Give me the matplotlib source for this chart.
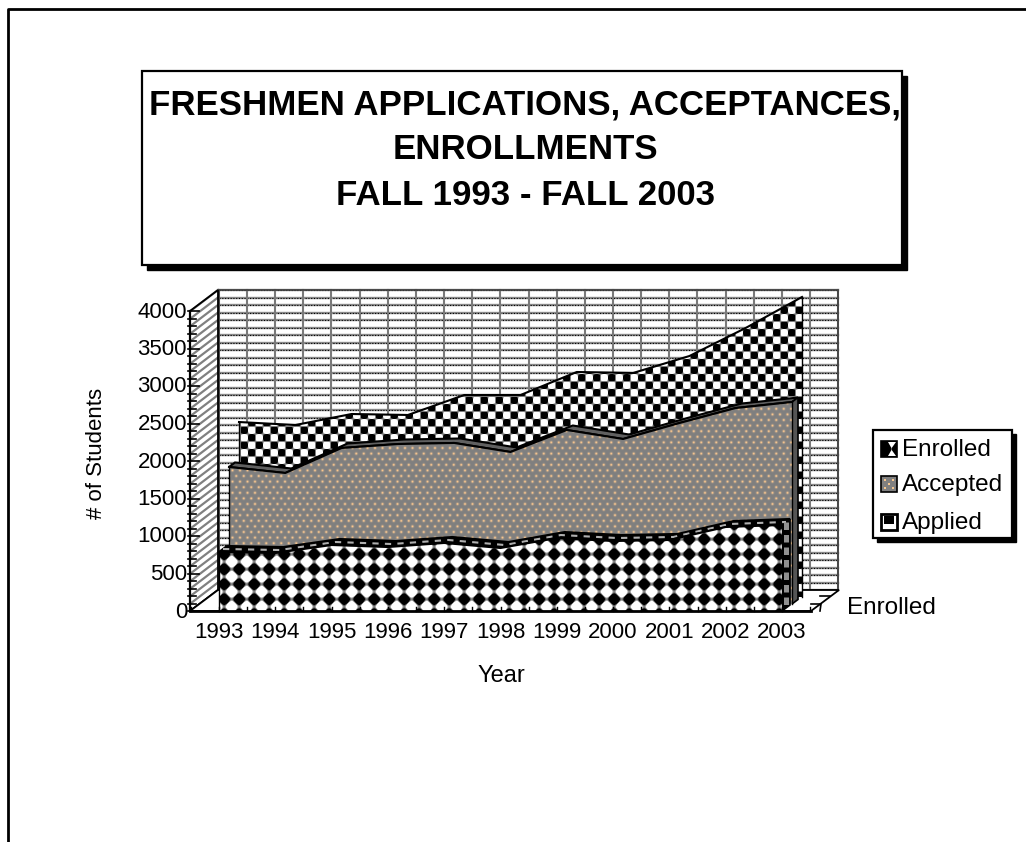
import numpy as np
import matplotlib
matplotlib.use("Agg")
import matplotlib.pyplot as plt
from matplotlib.patches import Polygon, Rectangle
from matplotlib.transforms import Affine2D

plt.rcParams["font.family"] = ["Liberation Sans", "DejaVu Sans"]

# valori
years = [1993, 1994, 1995, 1996, 1997, 1998, 1999, 2000, 2001, 2002, 2003]
enrolled = [787, 773, 880, 853, 907, 840, 973, 933, 947, 1120, 1147]
accepted = [1827, 1747, 2080, 2133, 2147, 2027, 2320, 2200, 2413, 2613, 2693]
applied = [2333, 2293, 2440, 2427, 2693, 2693, 3000, 2987, 3213, 3587, 4000]
y_ticks = [0, 500, 1000, 1500, 2000, 2500, 3000, 3500, 4000]
legend_names = ["Enrolled", "Accepted", "Applied"]
title_lines = ["FRESHMEN APPLICATIONS, ACCEPTANCES,", "ENROLLMENTS", "FALL 1993 - FALL 2003"]

W, H = 1026, 842
X_PX, X0 = 56.3, 219
Y_PX, Y0 = 0.075, 611

fig = plt.figure(figsize=(W / 100, H / 100), dpi=100)
ax = fig.add_axes([0, 0, 1, 1])
xlim = (1993 - X0 / X_PX, 1993 + (W - X0) / X_PX)
ylim = ((Y0 - H) / Y_PX, Y0 / Y_PX)
pix = Affine2D().scale(1, -1).translate(0, H)  # coordinate in pixel dell'immagine


def shift(dx, dy):
    # spostamento prospettico in pixel (dy verso l'alto)
    return ax.transData + Affine2D().translate(dx, dy)


# texture
yy, xx = np.mgrid[0:H, 0:W] + 0.5
diamond = np.cos(2 * np.pi * (xx - 231.7) / 15) + np.cos(2 * np.pi * (yy - 561.7) / 15)
diamond = np.clip(0.5 + diamond * 1.3, 0, 1)
diamond = np.dstack([diamond] * 3)

checker = np.sin(np.pi * (xx - 248) / 7.5) * np.sin(np.pi * (yy - 434) / 7.5)
checker = 0.5 - 0.5 * np.clip(checker * 5, -1, 1)
checker = np.dstack([checker] * 3)

base = np.array([0.5, 0.5, 0.5])
dot = np.array([0.98, 0.78, 0.56])
row = np.round(yy / 5.6)
cx = (xx - 3.75 * (row % 2)) / 7.5
dist2 = ((cx - np.round(cx)) * 7.5) ** 2 + (yy - row * 5.6) ** 2
amount = np.exp(-dist2 / 1.6)[..., None]
speckle = base * (1 - amount) + dot * amount


def draw_wall():
    back = shift(28, 21)
    ax.add_patch(Rectangle((1992.5, 0), 11, 4000, fc="white", ec="none", transform=back, zorder=1))
    for v in range(0, 4001, 100):
        ax.plot([1992.5, 2003.5], [v, v], color="#8a8a8a", lw=1.7, transform=back, zorder=2)
        ax.plot([1992.5, 2003.5], [v, v], color="black", lw=0.8, ls=(0, (1, 1.5)), transform=back, zorder=2)
    for x in np.arange(1992.5, 2004, 0.5):
        ax.plot([x, x], [0, 4000], color="#7a7a7a", lw=1.5, transform=back, zorder=2)
    ax.add_patch(Rectangle((1992.5, 0), 11, 4000, fc="none", ec="#404040", lw=1.2, transform=back, zorder=3))
    # parete sinistra
    for v in range(0, 4001, 100):
        ax.plot([190.5, 218], [Y0 - v * Y_PX, Y0 - 21 - v * Y_PX], color="#808080", lw=1.6, transform=pix, zorder=2)
    side = [(190, Y0), (218, Y0 - 21), (218, Y0 - 321), (190, Y0 - 300)]
    ax.add_patch(Polygon(side, fc="none", ec="black", lw=1.3, transform=pix, zorder=3))
    floor = [(190, Y0), (811, Y0), (839, Y0 - 21), (218, Y0 - 21)]
    ax.add_patch(Polygon(floor, fc="white", ec="black", lw=1.3, transform=pix, zorder=3))


def draw_series(values, dx0, dy0, dx, dy, tex, top_color, side_color, dash, z):
    tr = shift(dx0, dy0)
    xs = np.array(years, dtype=float)
    vs = np.array(values, dtype=float)
    depth = Affine2D().translate(dx, dy)
    # faccia superiore e laterale, spostate in profondita
    back = tr + depth
    pts_front = tr.transform(np.c_[xs, vs])
    pts_back = back.transform(np.c_[xs, vs])
    top = np.vstack([pts_front, pts_back[::-1]])
    ax.add_patch(Polygon(top, fc=top_color, ec="black", lw=1.5, transform=None, zorder=z))
    bottom_front = tr.transform([(xs[-1], 0)])[0]
    bottom_back = back.transform([(xs[-1], 0)])[0]
    side = [pts_front[-1], pts_back[-1], bottom_back, bottom_front]
    ax.add_patch(Polygon(side, fc=side_color, ec="black", lw=1.2, transform=None, zorder=z))
    if dash:
        mid = (pts_front + pts_back) / 2
        ax.plot(mid[:, 0], mid[:, 1], color="#b0b0b0", lw=1.5, ls=(0, (3, 3)), transform=None, zorder=z + 0.1)
        mid_s = [(pts_front[-1] + pts_back[-1]) / 2, (bottom_front + bottom_back) / 2]
        ax.plot([mid_s[0][0], mid_s[1][0]], [mid_s[0][1], mid_s[1][1]], color="#909090", lw=dx * 0.45,
                ls=(0, (1.5, 1)), transform=None, zorder=z + 0.1)
    # faccia frontale
    face = Polygon(np.vstack([[xs[0], 0], np.c_[xs, vs], [xs[-1], 0]]), fc="none", ec="none", transform=tr, zorder=z + 0.2)
    ax.add_patch(face)
    im = ax.imshow(tex, extent=(xlim[0], xlim[1], ylim[0], ylim[1]), origin="upper", aspect="auto",
                   interpolation="nearest", zorder=z + 0.2)
    im.set_clip_path(face)
    ax.plot(xs, vs, color="black", lw=1.5, transform=tr, zorder=z + 0.3)
    ax.plot([xs[0], xs[0]], [0, vs[0]], color="black", lw=1, transform=tr, zorder=z + 0.3)
    ax.plot([xs[-1], xs[-1]], [0, vs[-1]], color="black", lw=1, transform=tr, zorder=z + 0.3)


def draw_axes():
    ax.plot([190, 190], [Y0 - 300, Y0], color="black", lw=1.6, transform=pix, zorder=20)
    ax.plot([190, 811], [Y0, Y0], color="black", lw=2, transform=pix, zorder=20)
    for v in range(0, 4001, 100):
        x1 = 199 if v % 500 == 0 else 196
        y = Y0 - v * Y_PX
        ax.plot([188, x1], [y, y], color="black", lw=1.2, transform=pix, zorder=20)
    for x in np.arange(1992.5, 2004, 0.5):
        ax.plot([x, x], [0, 60], color="black", lw=1, zorder=20)
    # tacche dell'asse di profondita
    ax.plot([811, 821, 820], [604, 604, 611], color="black", lw=1.2, transform=pix, zorder=20)
    ax.plot([820, 830], [596, 596], color="black", lw=1.2, transform=pix, zorder=20)
    for v in y_ticks:
        ax.text(187, Y0 - v * Y_PX + 1, str(v), ha="right", va="center", fontsize=16, transform=pix, zorder=21)
    for y in years:
        ax.text(y, -285, str(y), ha="center", va="center", fontsize=16, zorder=21)
    ax.text(501, 676, "Year", ha="center", va="center", fontsize=17, transform=pix)
    ax.text(97, 453, "# of Students", ha="center", va="center", rotation=90, fontsize=16, transform=pix)
    ax.text(847, 608, "Enrolled", ha="left", va="center", fontsize=17.5, transform=pix)


def box(x0, y0, x1, y1, off, z):
    ax.add_patch(Rectangle((x0 + off, y0 + off), x1 - x0, y1 - y0, fc="black", ec="black", transform=pix, zorder=z))
    ax.add_patch(Rectangle((x0, y0), x1 - x0, y1 - y0, fc="white", ec="black", lw=1.6, transform=pix, zorder=z + 0.1))


def draw_legend():
    box(873, 430, 1012, 538, 4, 30)
    rows = [449, 484, 522]
    for name, y in zip(legend_names, rows):
        ax.text(902, y + 1.5, name, ha="left", va="center", fontsize=17.5, transform=pix, zorder=31)
    x0, x1 = 881, 897
    # Enrolled
    y = rows[0]
    ax.add_patch(Rectangle((x0, y - 8), 16, 16, fc="black", ec="black", lw=1.2, transform=pix, zorder=31))
    ax.add_patch(Polygon([(x0 + 7, y - 7), (x1 - 1, y - 7), (x0 + 10, y), (x1 - 1, y + 7), (x0 + 7, y + 7), (x0 + 11, y)],
                         fc="white", ec="none", transform=pix, zorder=32))
    # Accepted
    y = rows[1]
    ax.add_patch(Rectangle((x0, y - 8), 16, 16, fc="#808080", ec="black", lw=1.2, transform=pix, zorder=31))
    for px, py in [(4, 4), (12, 4), (8, 8), (4, 12), (12, 12)]:
        ax.add_patch(Rectangle((x0 + px - 1, y - 8 + py - 1), 2, 2, fc="#f8c890", ec="none", transform=pix, zorder=32))
    # Applied
    y = rows[2]
    ax.add_patch(Rectangle((x0, y - 8), 16, 16, fc="white", ec="black", lw=2, transform=pix, zorder=31))
    ax.add_patch(Rectangle((x0 + 3, y - 6), 10, 8, fc="black", ec="none", transform=pix, zorder=32))


draw_wall()
draw_series(applied, 20, 14, 7, 6, checker, "black", "black", True, 5)
draw_series(accepted, 10, 7, 6, 4.5, speckle, "#606060", "#555555", False, 7)
draw_series(enrolled, 0, 0, 8, 6, diamond, "black", "black", True, 9)
draw_axes()
draw_legend()

# riquadro del titolo e cornice
box(142, 71, 902, 265, 5, 25)
for line, y in zip(title_lines, [115, 159, 205]):
    ax.text(525, y, line, ha="center", va="baseline", fontsize=25.1, fontweight="bold", transform=pix, zorder=26)
ax.plot([7.5, 7.5, W], [H, 9, 9], color="black", lw=2, transform=pix, zorder=40)

ax.set_xlim(xlim)
ax.set_ylim(ylim)
ax.axis("off")
fig.savefig("out.png", dpi=100, facecolor="white")
